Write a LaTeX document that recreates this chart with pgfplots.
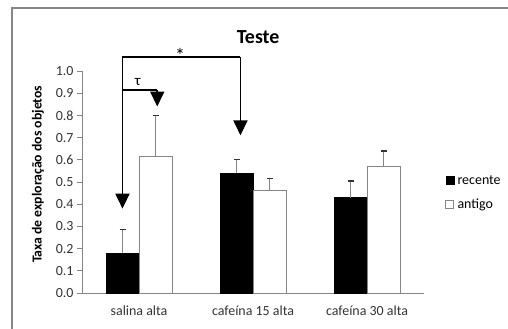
\documentclass[border=0pt]{standalone}
\usepackage{fontspec}
\setmainfont{Carlito}
\usepackage{pgfplots}
\pgfplotsset{compat=1.18}
\usetikzlibrary{arrows.meta}
\definecolor{axgray}{HTML}{868686}
\begin{document}
\begin{tikzpicture}
\useasboundingbox (0,0) rectangle (508bp,329bp);
\draw[axgray, line width=1.5bp] (12bp,0) -- (12bp,321bp) -- (508bp,321bp);
\begin{axis}[
  at={(82bp,36bp)}, anchor=south west,
  scale only axis, width=342bp, height=222bp,
  xmin=-0.5, xmax=2.5, ymin=0, ymax=1,
  axis x line*=bottom, axis y line*=left,
  axis line style={axgray, line width=0.8bp},
  every tick/.style={axgray, line width=0.8bp},
  tick align=outside,
  ytick={0,0.1,...,1.0},
  yticklabel style={/pgf/number format/fixed, /pgf/number format/fixed zerofill, /pgf/number format/precision=1, /pgf/number format/assume math mode=true, font=\fontsize{14}{16}\selectfont, color=black!80},
  major tick length=5bp,
  xtick={0,1,2},
  xticklabels={salina alta, cafeína 15 alta, cafeína 30 alta},
  xticklabel style={font=\fontsize{14}{16}\selectfont, color=black!80, yshift=-4bp},
  x tick style={draw=none},
  extra x ticks={-0.5,0.5,1.5,2.5},
  extra x tick labels={},
  extra x tick style={tick style={axgray, line width=0.8bp}, major tick length=5bp},
  ylabel={\textbf{Taxa de exploração dos objetos}},
  ylabel style={at={(axis description cs:-0.129,0.535)}, anchor=center, font=\fontsize{13.8}{15}\selectfont},
  title={\textbf{Teste}},
  title style={at={(axis description cs:0.515,1.125)}, anchor=center, font=\fontsize{20}{22}\selectfont},
  ybar=0pt, bar width=33bp,
  clip=false,
  legend cell align=left,
  legend style={at={(axis description cs:1.062,0.535)}, anchor=north west, draw=none, fill=none,
    font=\fontsize{14}{16}\selectfont, row sep=13bp, inner sep=0pt,
    nodes={inner sep=1bp, text depth=0pt}},
  legend image code/.code={\draw[#1] (0bp,-4bp) rectangle (8bp,4bp);},
  error bars/y dir=plus, error bars/y explicit,
  error bars/error bar style={axgray, line width=1bp},
  error bars/error mark options={rotate=90, mark size=3bp, line width=1.3bp, black!80},
]
\addplot[fill=black, draw=black] coordinates {
  (0,0.18) +- (0,0.105)
  (1,0.54) +- (0,0.06)
  (2,0.43) +- (0,0.075)
};
\addplot[fill=white, draw=axgray, line width=0.8bp] coordinates {
  (0,0.615) +- (0,0.185)
  (1,0.46) +- (0,0.055)
  (2,0.57) +- (0,0.07)
};
\legend{\,recente, \,antigo}
\draw[line width=1.8bp] (axis cs:-0.145,1.063) -- (axis cs:0.89,1.063);
\draw[line width=1.8bp, -{Triangle[width=14bp,length=15bp]}] (axis cs:-0.145,1.063) -- (axis cs:-0.145,0.38);
\draw[line width=1.8bp, -{Triangle[width=14bp,length=15bp]}] (axis cs:0.89,1.063) -- (axis cs:0.89,0.71);
\draw[line width=1.8bp] (axis cs:-0.145,0.914) -- (axis cs:0.16,0.914);
\draw[line width=1.8bp, -{Triangle[width=14bp,length=15bp]}] (axis cs:0.16,0.914) -- (axis cs:0.16,0.84);
\node[font=\fontsize{20}{22}\selectfont, inner sep=0pt] at (axis cs:0.36,1.07) {*};
\node[font=\fontsize{15}{17}\selectfont] at (axis cs:-0.01,0.95) {τ};
\end{axis}
\end{tikzpicture}
\end{document}
